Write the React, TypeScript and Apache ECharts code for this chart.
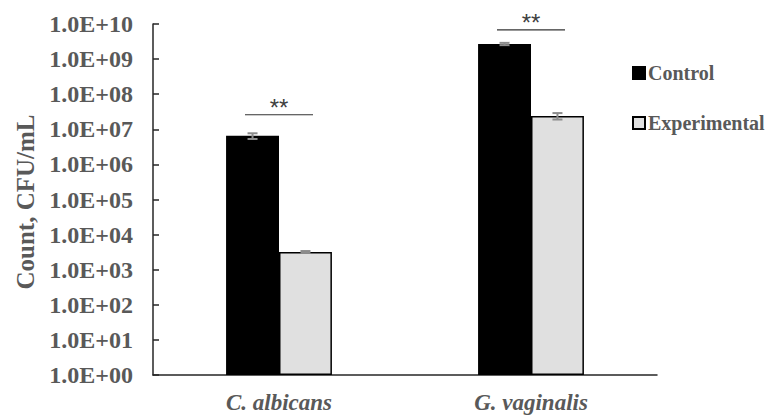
import React, { useEffect, useRef } from "react";
import * as echarts from "echarts";

const categories = ["C. albicans", "G. vaginalis"];
const seriesNames = ["Control", "Experimental"];
const controlValues = [6.5e6, 2.7e9];
const controlErrors = [1.2e6, 2.0e8];
const experimentalValues = [3.2e3, 2.4e7];
const experimentalErrors = [2.0e2, 5.0e6];
const significanceHeights = [2.6e7, 6.8e9];
const significanceLabels = ["**", "**"];
const yAxisTitle = "Count, CFU/mL";
const yTickLabels = [
  "1.0E+00", "1.0E+01", "1.0E+02", "1.0E+03", "1.0E+04", "1.0E+05",
  "1.0E+06", "1.0E+07", "1.0E+08", "1.0E+09", "1.0E+10",
];

const SERIF = "'Liberation Serif', 'Times New Roman', serif";
const TEXT = "#595959";
const BAR_FRAC = 0.21;

function errorRenderer(side: number) {
  return (params: any, api: any) => {
    const cat = api.value(0);
    const catW = api.size([1, 0])[0];
    const off = (side * catW * BAR_FRAC) / 2;
    const pLow = api.coord([cat, api.value(1)]);
    const pHigh = api.coord([cat, api.value(2)]);
    const x = pLow[0] + off;
    const hw = 5;
    const style = { stroke: "#8c8c8c", lineWidth: 2 };
    return {
      type: "group",
      children: [
        { type: "line", shape: { x1: x, y1: pLow[1], x2: x, y2: pHigh[1] }, style },
        { type: "line", shape: { x1: x - hw, y1: pHigh[1], x2: x + hw, y2: pHigh[1] }, style },
        { type: "line", shape: { x1: x - hw, y1: pLow[1], x2: x + hw, y2: pLow[1] }, style },
      ],
    };
  };
}

export default function App() {
  const ref = useRef<HTMLDivElement>(null);
  useEffect(() => {
    if (!ref.current) return;
    const chart = echarts.init(ref.current, null, { renderer: "svg" });
    const ctrlErr = categories.map((_, i) => [i, controlValues[i] - controlErrors[i], controlValues[i] + controlErrors[i]]);
    const expErr = categories.map((_, i) => [i, experimentalValues[i] - experimentalErrors[i], experimentalValues[i] + experimentalErrors[i]]);
    const sig = categories.map((_, i) => [i, significanceHeights[i]]);
    chart.setOption({
      animation: false,
      backgroundColor: "#ffffff",
      grid: { left: 153, right: 111, top: 24, bottom: 40, containLabel: false },
      graphic: [
        {
          type: "text",
          x: 25,
          y: 202,
          rotation: Math.PI / 2,
          style: {
            text: yAxisTitle,
            fontFamily: SERIF,
            fontWeight: "bold",
            fontSize: 25,
            fill: TEXT,
            align: "center",
            verticalAlign: "middle",
          },
        },
      ],
      legend: {
        data: seriesNames,
        orient: "vertical",
        left: 627,
        top: 58,
        icon: "rect",
        itemWidth: 12,
        itemHeight: 12,
        itemGap: 30,
        textStyle: { fontFamily: SERIF, fontWeight: "bold", fontSize: 20, color: TEXT, lineHeight: 20, padding: [0, 0, 0, -2] },
      },
      xAxis: {
        type: "category",
        data: categories,
        axisLine: { lineStyle: { color: "#262626", width: 1.5 } },
        axisTick: { show: false },
        axisLabel: { fontFamily: SERIF, fontWeight: "bold", fontStyle: "italic", fontSize: 23, color: TEXT, margin: 16 },
      },
      yAxis: {
        type: "log",
        logBase: 10,
        min: 1,
        max: 1e10,
        interval: 1,
        splitNumber: 10,
        axisLine: { show: true, lineStyle: { color: "#262626", width: 1.5 } },
        axisTick: { show: true, inside: true, length: 6, lineStyle: { color: "#262626", width: 1.5 } },
        minorTick: { show: false },
        splitLine: { show: false },
        axisLabel: {
          fontFamily: SERIF,
          fontWeight: "bold",
          fontSize: 24,
          color: TEXT,
          margin: 20,
          formatter: (v: number) => yTickLabels[Math.round(Math.log10(v))] ?? "",
        },
      },
      series: [
        {
          name: seriesNames[0],
          type: "bar",
          data: controlValues,
          barWidth: BAR_FRAC * 100 + "%",
          barGap: "0%",
          itemStyle: { color: "#000000", borderColor: "#000000", borderWidth: 1.5 },
        },
        {
          name: seriesNames[1],
          type: "bar",
          data: experimentalValues,
          barWidth: BAR_FRAC * 100 + "%",
          barGap: "0%",
          itemStyle: { color: "#e0e0e0", borderColor: "#000000", borderWidth: 1.5 },
        },
        {
          type: "custom",
          name: "errCtrl",
          data: ctrlErr,
          encode: { x: 0, y: [1, 2] },
          renderItem: errorRenderer(-1),
          z: 5,
        },
        {
          type: "custom",
          name: "errExp",
          data: expErr,
          encode: { x: 0, y: [1, 2] },
          renderItem: errorRenderer(1),
          z: 5,
        },
        {
          type: "custom",
          name: "sig",
          data: sig,
          encode: { x: 0, y: 1 },
          renderItem: (params: any, api: any) => {
            const cat = api.value(0);
            const catW = api.size([1, 0])[0];
            const p = api.coord([cat, api.value(1)]);
            const hw = catW * 0.135;
            return {
              type: "group",
              children: [
                { type: "line", shape: { x1: p[0] - hw, y1: p[1], x2: p[0] + hw, y2: p[1] }, style: { stroke: "#333333", lineWidth: 1.2 } },
                {
                  type: "text",
                  x: p[0],
                  y: p[1] + 5,
                  style: {
                    text: significanceLabels[params.dataIndex],
                    fontFamily: "'Liberation Sans', Arial, sans-serif",
                    fontSize: 24,
                    fill: "#404040",
                    align: "center",
                    verticalAlign: "bottom",
                  },
                },
              ],
            };
          },
          z: 5,
        },
      ],
    });
    return () => chart.dispose();
  }, []);
  return <div ref={ref} style={{ position: "fixed", left: 0, top: 0, width: 768, height: 415 }} />;
}
